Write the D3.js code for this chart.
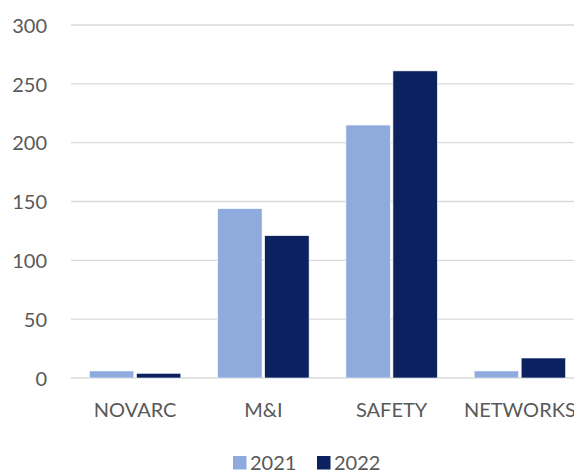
<!DOCTYPE html>
<html>
<head>
<meta charset="utf-8">
<script src="https://cdn.jsdelivr.net/npm/d3@7"></script>
<style>
  html, body { margin: 0; padding: 0; background: #ffffff; }
  svg { display: block; }
  text { font-family: Lato, "Open Sans", sans-serif; fill: #595959; }
</style>
</head>
<body>
<div id="chart"></div>
<script>
const categories = ["NOVARC", "M&I", "SAFETY", "NETWORKS"];
const seriesNames = ["2021", "2022"];
const values2021 = [6, 144, 215, 6];
const values2022 = [4, 121, 261, 17];
const yTicks = [0, 50, 100, 150, 200, 250, 300];
const colors = ["#8FAADC", "#0B2160"];

const W = 574, H = 470;
const svg = d3.select("#chart").append("svg").attr("width", W).attr("height", H);

const plotLeft = 71, plotRight = 584, plotTop = 25, plotBottom = 378;

const x0 = d3.scaleBand().domain(categories).range([plotLeft, plotRight])
  .paddingInner(0.287).paddingOuter(0.1435);
const x1 = d3.scaleBand().domain(seriesNames).range([0, x0.bandwidth()]).paddingInner(0.055);
const y = d3.scaleLinear().domain([0, 300]).range([plotBottom, plotTop]);

// gridlines
svg.append("g").selectAll("line").data(yTicks).join("line")
  .attr("x1", plotLeft).attr("x2", plotRight)
  .attr("y1", d => y(d)).attr("y2", d => y(d))
  .attr("stroke", "#d9d9d9").attr("stroke-width", 1.3);

// y axis labels
const yAxis = d3.axisLeft(y).tickValues(yTicks).tickSize(0).tickPadding(0);
const gy = svg.append("g").attr("transform", "translate(47,0)").call(yAxis);
gy.select(".domain").remove();
gy.selectAll("text").attr("font-size", 20).attr("font-family", "Lato, 'Open Sans', sans-serif")
  .attr("fill", "#595959").attr("dy", "0.36em");

// bars
const data = categories.map((c, i) => ({ cat: c, vals: [values2021[i], values2022[i]] }));
const groups = svg.append("g").selectAll("g").data(data).join("g")
  .attr("transform", d => `translate(${x0(d.cat)},0)`);
groups.selectAll("rect").data(d => d.vals.map((v, j) => ({ s: seriesNames[j], v, j })))
  .join("rect")
  .attr("x", d => x1(d.s))
  .attr("width", x1.bandwidth())
  .attr("y", d => y(d.v))
  .attr("height", d => y(0) - y(d.v))
  .attr("fill", d => colors[d.j])
  .attr("stroke", "#ffffff").attr("stroke-width", 0.6);

// x axis labels
const xAxis = d3.axisBottom(x0).tickSize(0).tickPadding(0);
const gx = svg.append("g").attr("transform", `translate(0,${plotBottom})`).call(xAxis);
gx.select(".domain").remove();
gx.selectAll("text").attr("font-size", 20).attr("font-family", "Lato, 'Open Sans', sans-serif")
  .attr("fill", "#595959").attr("dy", 0).attr("y", 39);

// legend
const legendItems = [
  { name: seriesNames[0], color: colors[0], x: 233 },
  { name: seriesNames[1], color: colors[1], x: 317 }
];
const lg = svg.append("g");
lg.selectAll("rect").data(legendItems).join("rect")
  .attr("x", d => d.x).attr("y", 456).attr("width", 13.5).attr("height", 13.5)
  .attr("fill", d => d.color);
lg.selectAll("text").data(legendItems).join("text")
  .attr("x", d => d.x + 17).attr("y", 470)
  .attr("font-size", 20).text(d => d.name);
</script>
</body>
</html>
